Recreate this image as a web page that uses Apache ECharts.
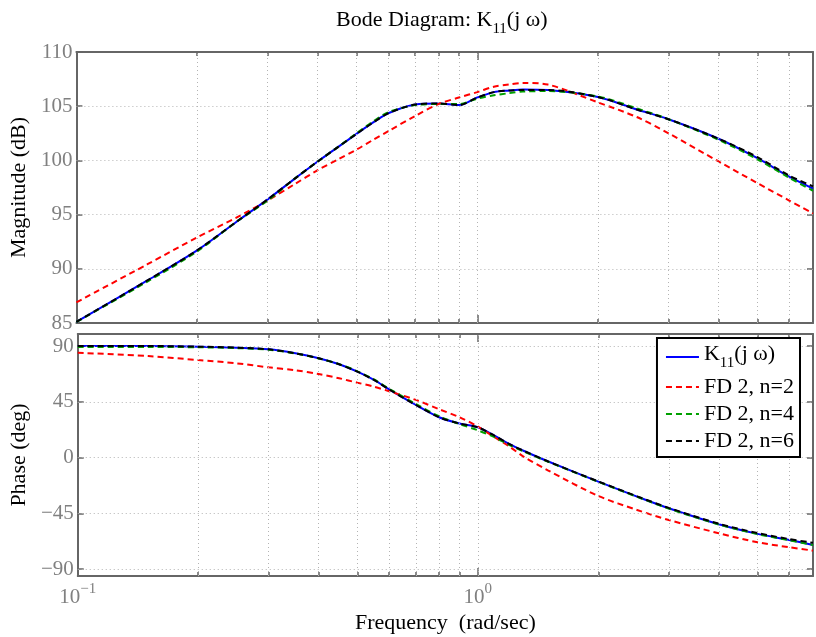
<!DOCTYPE html>
<html>
<head>
<meta charset="utf-8">
<script src="https://cdn.jsdelivr.net/npm/echarts@6/dist/echarts.min.js"></script>
<style>
html,body{margin:0;padding:0;background:#fff;}
#main{width:816px;height:637px;}
</style>
</head>
<body>
<div id="main"></div>
<script>
// frequencies (rad/sec)
var freq = [0.1, 0.15, 0.2, 0.25, 0.3, 0.35, 0.4, 0.45, 0.5, 0.55, 0.6, 0.7, 0.8, 0.9, 1.0, 1.1, 1.2, 1.3, 1.5, 2, 2.5, 3, 4, 5, 6, 6.88];

// magnitude (dB)
var magK11 = [85.1, 88.9, 91.7, 94.3, 96.4, 98.3, 99.9, 101.25, 102.45, 103.5, 104.35, 105.15, 105.25, 105.1, 105.8, 106.3, 106.45, 106.55, 106.5, 105.85, 104.7, 103.8, 102.0, 100.2, 98.5, 97.4];
var magN2  = [86.9, 90.4, 92.9, 94.7, 96.3, 97.8, 99.1, 100.1, 101.0, 101.9, 102.7, 104.1, 105.2, 105.8, 106.3, 106.8, 107.0, 107.15, 107.0, 105.35, 104.0, 102.5, 99.9, 97.9, 96.3, 95.1];
var magN4  = [85.1, 88.8, 91.6, 94.3, 96.3, 98.3, 99.9, 101.25, 102.5, 103.6, 104.45, 105.1, 105.2, 105.2, 105.7, 106.0, 106.2, 106.35, 106.4, 105.9, 104.8, 103.8, 101.9, 100.1, 98.4, 97.2];
var magN6  = [85.1, 88.9, 91.7, 94.3, 96.4, 98.3, 99.9, 101.25, 102.45, 103.5, 104.35, 105.15, 105.25, 105.1, 105.8, 106.3, 106.45, 106.5, 106.5, 105.85, 104.7, 103.8, 102.0, 100.3, 98.6, 97.6];

// phase (deg)
var phK11 = [90, 90, 89.5, 88.7, 87.3, 84.1, 80.1, 75.3, 69.3, 62.6, 55.0, 42.4, 32.5, 27.4, 24.4, 17.6, 10.8, 5.5, -3.2, -19.4, -31.5, -40.9, -53.8, -61.6, -66.5, -70.5];
var phN2  = [84.6, 81.9, 78.7, 76.0, 72.8, 70.4, 67.4, 64.0, 60.4, 57.2, 53.5, 46.5, 39.0, 32.5, 25.0, 16.4, 8.8, 0.8, -10.5, -31.0, -42.3, -50.4, -61.1, -68.4, -72.4, -75.1];
var phN4  = [89.2, 89.3, 89.0, 88.3, 87.0, 84.0, 80.0, 75.4, 69.6, 63.0, 55.5, 43.2, 33.3, 27.0, 22.0, 16.5, 10.0, 5.0, -3.5, -19.6, -31.7, -41.2, -54.0, -61.8, -66.8, -70.6];
var phN6  = [90, 90, 89.5, 88.7, 87.3, 84.1, 80.1, 75.3, 69.3, 62.6, 55.0, 42.4, 32.5, 27.4, 24.4, 17.6, 10.8, 5.5, -3.2, -19.3, -31.3, -40.6, -53.4, -61.0, -65.8, -68.8];

// tick labels / grid positions
var xMajor = [0.1, 1];
var xMinor = [0.2, 0.3, 0.4, 0.5, 0.6, 0.7, 0.8, 0.9, 2, 3, 4, 5, 6];
var phaseTicks = [-90, -45, 0, 45, 90];
var magTicks = [85, 90, 95, 100, 105, 110];

var names = ['K11', 'FD 2, n=2', 'FD 2, n=4', 'FD 2, n=6'];
var colors = ['#0000ff', '#ff0000', '#00a000', '#000000'];

var FONT = 'Liberation Serif';
var frameColor = '#666666';
var labelColor = '#808080';
var gridColor = '#b4b4b4';

function pairs(arr){
    return freq.map(function(f, i){ return [f, arr[i]]; });
}

function xAxesFor(g, withLabels){
    var list = [];
    ['bottom', 'top'].forEach(function(pos){
        list.push({
            type: 'log', logBase: 10, gridIndex: g, position: pos,
            min: 0.1, max: 6.88,
            axisLine: {show: true, onZero: false, lineStyle: {color: frameColor, width: 2}},
            axisTick: {show: true, inside: true, length: 8, customValues: xMajor,
                lineStyle: {color: frameColor, width: 1.5}},
            axisLabel: {show: withLabels && pos == 'bottom', customValues: xMajor, margin: 6,
                formatter: function(v){
                    var e = Math.round(Math.log(v) / Math.LN10);
                    return '{b|10}{e|' + String(e).replace('-', '\u2212') + '}';
                },
                rich: {
                    b: {fontFamily: FONT, fontSize: 21, color: labelColor, verticalAlign: 'bottom'},
                    e: {fontFamily: FONT, fontSize: 15, color: labelColor, verticalAlign: 'top', padding: [0, 0, 11, 0]}
                }
            },
            splitLine: {show: false},
            name: (withLabels && pos == 'bottom') ? 'Frequency  (rad/sec)' : '',
            nameLocation: 'middle', nameGap: 36,
            nameTextStyle: {fontFamily: FONT, fontSize: 22, color: '#000', verticalAlign: 'top'}
        });
        list.push({
            type: 'log', logBase: 10, gridIndex: g, position: pos,
            min: 0.1, max: 6.88,
            axisLine: {show: false, onZero: false},
            axisTick: {show: true, inside: true, length: 4, customValues: xMinor,
                lineStyle: {color: frameColor, width: 1.5}},
            axisLabel: {show: false},
            splitLine: {show: false}
        });
    });
    return list;
}

function yAxesFor(g, opts){
    var left = {
        type: 'value', gridIndex: g, position: 'left',
        min: opts.min, max: opts.max,
        axisLine: {show: true, onZero: false, lineStyle: {color: frameColor, width: 2}},
        axisTick: {show: true, inside: true, length: 6, customValues: opts.ticks,
            lineStyle: {color: frameColor, width: 1.5}},
        axisLabel: {show: true, customValues: opts.ticks, margin: 4,
            fontFamily: FONT, fontSize: 21, color: labelColor,
            formatter: function(v){ return String(v).replace('-', '\u2212'); }},
        splitLine: {show: false},
        name: opts.name, nameLocation: 'middle', nameGap: 36, nameRotate: 90,
        nameTextStyle: {fontFamily: FONT, fontSize: 22, color: '#000'}
    };
    var right = {
        type: 'value', gridIndex: g, position: 'right',
        min: opts.min, max: opts.max,
        axisLine: {show: true, onZero: false, lineStyle: {color: frameColor, width: 2}},
        axisTick: {show: true, inside: true, length: 6, customValues: opts.ticks,
            lineStyle: {color: frameColor, width: 1.5}},
        axisLabel: {show: false},
        splitLine: {show: false}
    };
    return [left, right];
}

// dotted grid drawn as mark lines under the curves
function gridSeries(xi, yi, yVals){
    var data = [];
    xMinor.concat([1]).forEach(function(v){ data.push({xAxis: v}); });
    yVals.forEach(function(v){ data.push({yAxis: v}); });
    return {
        type: 'line', xAxisIndex: xi, yAxisIndex: yi, data: [], silent: true, z: 1,
        markLine: {
            silent: true, symbol: 'none', animation: false,
            label: {show: false},
            lineStyle: {color: gridColor, type: [1, 3], width: 1},
            emphasis: {disabled: true},
            data: data
        }
    };
}

function curve(i, xi, yi, arr){
    return {
        name: names[i], type: 'line', xAxisIndex: xi, yAxisIndex: yi,
        data: pairs(arr), showSymbol: false, symbol: 'none', smooth: 0.3, z: 3 + i,
        lineStyle: {color: colors[i], width: 2, type: i == 0 ? 'solid' : [6, 4]},
        itemStyle: {color: colors[i]}
    };
}

var myChart = echarts.init(document.getElementById('main'), null, {renderer: 'canvas'});

var option = {
    animation: false,
    backgroundColor: '#fff',
    title: {
        text: '{t|Bode Diagram: K}{s|11}{t|(j \u03c9)}',
        left: 331, top: 4,
        textStyle: {
            fontWeight: 'normal',
            rich: {
                t: {fontFamily: FONT, fontSize: 22, fontWeight: 'normal', color: '#000', verticalAlign: 'top'},
                s: {fontFamily: FONT, fontSize: 15, fontWeight: 'normal', color: '#000', verticalAlign: 'bottom', padding: [13, 0, 0, 0]}
            }
        }
    },
    legend: {
        data: names, orient: 'vertical', right: 16, top: 338,
        itemWidth: 33, itemHeight: 12, itemGap: 5,
        padding: [5, 6, 5, 8],
        backgroundColor: '#fff', borderColor: '#000', borderWidth: 2, borderRadius: 0,
        itemStyle: {opacity: 0},
        z: 20,
        formatter: function(n){
            if(n == 'K11') return '{t|K}{s|11}{t|(j \u03c9)}';
            return '{t|' + n + '}';
        },
        textStyle: {
            fontFamily: FONT, fontSize: 22, color: '#000',
            rich: {
                t: {fontFamily: FONT, fontSize: 22, color: '#000', verticalAlign: 'top'},
                s: {fontFamily: FONT, fontSize: 15, color: '#000', verticalAlign: 'bottom', padding: [13, 0, 0, 0]}
            }
        }
    },
    grid: [
        {left: 74, right: 3, top: 52, height: 271},
        {left: 74, right: 3, top: 334, height: 242}
    ],
    xAxis: xAxesFor(0, false).concat(xAxesFor(1, true)),
    yAxis: yAxesFor(0, {min: 85, max: 110, ticks: magTicks, name: 'Magnitude (dB)'})
        .concat(yAxesFor(1, {min: -95.6, max: 99.7, ticks: phaseTicks, name: 'Phase (deg)'})),
    series: [
        gridSeries(0, 0, magTicks.slice(1, 5)),
        gridSeries(4, 2, phaseTicks),
        curve(0, 0, 0, magK11),
        curve(1, 0, 0, magN2),
        curve(2, 0, 0, magN4),
        curve(3, 0, 0, magN6),
        curve(0, 4, 2, phK11),
        curve(1, 4, 2, phN2),
        curve(2, 4, 2, phN4),
        curve(3, 4, 2, phN6)
    ]
};
myChart.setOption(option);
</script>
</body>
</html>
